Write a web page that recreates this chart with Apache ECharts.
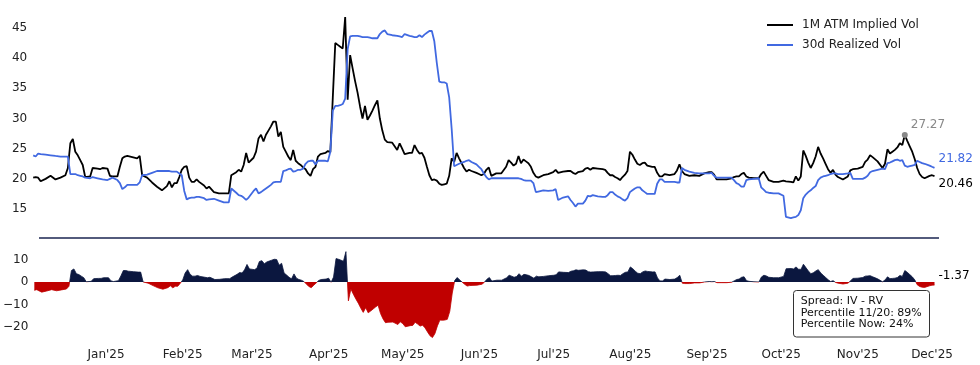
<!DOCTYPE html>
<html><head><meta charset="utf-8">
<script src="https://cdn.jsdelivr.net/npm/echarts@6/dist/echarts.min.js"></script>
<style>html,body{margin:0;padding:0;background:#fff}#c{width:980px;height:365px}</style>
</head><body><div id="c"></div>
<script>
const dates = ['2024-12-03','2024-12-04','2024-12-05','2024-12-06','2024-12-08','2024-12-10','2024-12-12','2024-12-14','2024-12-16','2024-12-17','2024-12-18','2024-12-19','2024-12-20','2024-12-21','2024-12-22','2024-12-23','2024-12-24','2024-12-26','2024-12-27','2024-12-29','2024-12-30','2024-12-31',
'2025-01-02','2025-01-03','2025-01-04','2025-01-06','2025-01-07','2025-01-08','2025-01-09','2025-01-10','2025-01-12','2025-01-14','2025-01-15','2025-01-16','2025-01-18','2025-01-20','2025-01-22','2025-01-24','2025-01-26','2025-01-27','2025-01-28','2025-01-29','2025-01-30','2025-01-31',
'2025-02-01','2025-02-02','2025-02-03','2025-02-04','2025-02-05','2025-02-06','2025-02-07','2025-02-08','2025-02-10','2025-02-11','2025-02-12','2025-02-14','2025-02-16','2025-02-18','2025-02-20','2025-02-21','2025-02-23','2025-02-24','2025-02-25','2025-02-26','2025-02-27','2025-02-28',
'2025-03-02','2025-03-03','2025-03-04','2025-03-05','2025-03-06','2025-03-07','2025-03-08','2025-03-09','2025-03-10','2025-03-11','2025-03-12','2025-03-13','2025-03-14','2025-03-15','2025-03-16','2025-03-17','2025-03-18','2025-03-19','2025-03-20','2025-03-21','2025-03-22','2025-03-23','2025-03-24','2025-03-25','2025-03-26','2025-03-27','2025-03-28','2025-03-29','2025-03-31',
'2025-04-01','2025-04-02','2025-04-03','2025-04-04','2025-04-05','2025-04-06','2025-04-07','2025-04-08','2025-04-09','2025-04-10','2025-04-11','2025-04-12','2025-04-13','2025-04-14','2025-04-15','2025-04-16','2025-04-17','2025-04-18','2025-04-19','2025-04-20','2025-04-21','2025-04-22','2025-04-23','2025-04-24','2025-04-25','2025-04-27','2025-04-29','2025-04-30',
'2025-05-01','2025-05-02','2025-05-04','2025-05-05','2025-05-06','2025-05-07','2025-05-08','2025-05-09','2025-05-10','2025-05-11','2025-05-12','2025-05-13','2025-05-14','2025-05-15','2025-05-16','2025-05-17','2025-05-18','2025-05-19','2025-05-20','2025-05-21','2025-05-22','2025-05-23','2025-05-24','2025-05-26','2025-05-27','2025-05-28','2025-05-29','2025-05-31',
'2025-06-01','2025-06-02','2025-06-03','2025-06-04','2025-06-05','2025-06-06','2025-06-08','2025-06-10','2025-06-12','2025-06-13','2025-06-14','2025-06-15','2025-06-16','2025-06-17','2025-06-18','2025-06-19','2025-06-20','2025-06-21','2025-06-22','2025-06-23','2025-06-24','2025-06-25','2025-06-27','2025-06-29',
'2025-07-01','2025-07-02','2025-07-03','2025-07-05','2025-07-07','2025-07-08','2025-07-09','2025-07-10','2025-07-11','2025-07-13','2025-07-14','2025-07-15','2025-07-16','2025-07-17','2025-07-19','2025-07-21','2025-07-22','2025-07-23','2025-07-24','2025-07-25','2025-07-26','2025-07-27','2025-07-28','2025-07-29','2025-07-30','2025-07-31',
'2025-08-01','2025-08-02','2025-08-03','2025-08-04','2025-08-05','2025-08-06','2025-08-07','2025-08-08','2025-08-10','2025-08-11','2025-08-12','2025-08-13','2025-08-14','2025-08-15','2025-08-17','2025-08-19','2025-08-20','2025-08-21','2025-08-22','2025-08-23','2025-08-25','2025-08-27','2025-08-29','2025-08-31',
'2025-09-02','2025-09-03','2025-09-04','2025-09-05','2025-09-07','2025-09-09','2025-09-11','2025-09-12','2025-09-13','2025-09-14','2025-09-15','2025-09-16','2025-09-17','2025-09-18','2025-09-20','2025-09-22','2025-09-23','2025-09-24','2025-09-25','2025-09-26','2025-09-28','2025-09-30',
'2025-10-02','2025-10-03','2025-10-05','2025-10-06','2025-10-07','2025-10-08','2025-10-09','2025-10-10','2025-10-11','2025-10-12','2025-10-13','2025-10-14','2025-10-15','2025-10-16','2025-10-17','2025-10-18','2025-10-19','2025-10-20','2025-10-21','2025-10-22','2025-10-23','2025-10-24','2025-10-26','2025-10-28','2025-10-29','2025-10-30',
'2025-11-01','2025-11-03','2025-11-04','2025-11-05','2025-11-06','2025-11-07','2025-11-09','2025-11-11','2025-11-12','2025-11-13','2025-11-14','2025-11-15','2025-11-16','2025-11-17','2025-11-18','2025-11-19','2025-11-20','2025-11-21','2025-11-22','2025-11-23','2025-11-24','2025-11-25','2025-11-26','2025-11-27','2025-11-28','2025-11-30',
'2025-12-01','2025-12-02'];

const impliedVol = [20.2,20.3,20.2,19.6,20.0,20.5,19.9,20.2,20.6,21.8,25.9,26.6,24.5,23.9,23.1,22.3,20.3,20.4,21.8,21.7,21.6,21.8,
21.7,20.5,20.4,20.4,22.0,23.4,23.7,23.8,23.6,23.4,23.8,20.6,20.2,19.4,18.7,18.1,18.8,19.6,18.6,19.3,19.3,20.3,
21.5,22.0,22.1,20.2,19.5,19.5,19.9,19.5,18.9,18.4,18.7,17.8,17.6,17.6,17.6,20.6,21.1,21.5,21.2,22.3,24.3,22.7,
23.5,24.5,26.7,27.3,26.2,27.3,28.0,28.7,29.5,29.5,27.0,27.8,25.3,24.5,23.7,23.1,24.8,23.0,22.6,22.3,21.9,21.6,20.9,20.5,21.6,22.0,23.7,24.1,24.3,
24.6,24.4,33.5,42.5,42.2,41.9,41.6,46.8,33.1,40.5,38.3,36.2,34.3,32.0,30.0,32.1,29.8,30.5,31.3,32.2,33.0,30.0,28.0,26.5,26.1,26.0,24.8,25.9,
25.0,24.1,24.3,24.3,25.6,24.8,24.2,24.3,23.5,22.0,20.6,19.8,19.9,19.7,19.2,19.0,19.1,19.2,20.5,23.4,22.8,24.3,23.4,21.8,21.2,21.5,21.3,21.0,
20.8,20.6,20.8,21.5,21.9,20.5,20.9,20.9,22.0,23.1,22.7,22.2,22.5,23.8,22.6,23.2,22.9,22.6,22.0,21.0,20.4,20.2,20.6,20.8,
21.1,21.5,21.0,21.2,21.3,21.3,21.0,20.8,21.1,21.3,21.7,21.8,21.5,21.8,21.7,21.6,21.5,21.0,20.6,20.6,20.3,20.1,19.8,20.3,20.7,21.3,
24.5,24.0,23.2,22.5,22.3,22.6,22.7,22.2,22.0,22.0,21.0,20.4,20.4,20.8,20.6,20.8,21.4,22.4,21.3,20.8,20.5,20.6,20.5,20.9,
21.1,21.1,20.7,19.9,19.9,19.9,20.1,20.3,20.4,20.4,20.8,21.0,20.4,20.2,20.1,20.1,20.8,21.2,20.5,19.8,19.5,19.5,
19.7,19.6,19.5,19.4,20.4,19.7,20.4,24.7,23.8,22.7,21.8,22.6,23.7,25.3,24.2,23.4,22.5,21.6,21.0,21.5,20.7,20.3,19.9,20.4,21.4,21.6,
21.7,22.0,22.8,23.2,23.9,23.6,22.9,21.8,22.5,24.9,24.2,24.5,24.8,25.2,25.9,25.6,27.27,26.3,25.4,24.5,23.3,21.8,20.8,20.3,20.1,20.5,
20.6,20.4551];

const realizedVol = [23.9,23.7,24.2,24.1,24.0,23.9,23.8,23.7,23.7,23.7,20.8,20.8,20.8,20.6,20.5,20.4,20.2,20.1,20.3,20.1,20.0,19.9,
19.8,20.0,20.2,19.8,19.3,18.3,18.6,19.0,19.0,19.0,19.4,20.6,20.7,21.0,21.3,21.3,21.3,21.3,21.2,21.2,21.2,20.9,
20.6,18.0,16.6,16.8,16.9,16.9,17.0,17.0,16.8,16.5,16.6,16.7,16.4,16.1,16.1,18.4,17.7,17.3,17.2,16.9,16.5,16.9,
18.0,18.4,17.6,17.8,18.1,18.4,18.7,19.0,19.4,19.5,19.5,19.5,21.3,21.4,21.6,21.7,21.2,21.3,21.5,21.5,21.7,22.5,22.9,23.0,23.0,22.4,23.0,23.0,23.0,
22.9,24.5,31.3,32.1,32.1,32.2,32.4,33.3,41.5,43.6,43.7,43.7,43.7,43.6,43.5,43.5,43.5,43.4,43.3,43.3,43.3,44.0,44.4,44.6,44.0,43.8,43.7,43.6,
43.5,44.0,43.7,43.6,43.5,43.5,43.8,43.5,43.9,44.2,44.5,44.5,42.8,39.2,36.1,36.0,36.0,35.8,33.5,28.3,22.1,22.3,22.5,22.8,23.0,23.1,22.8,22.4,
22.0,21.6,20.9,20.3,19.9,20.1,20.1,20.1,20.1,20.1,20.1,20.1,20.1,20.1,20.0,19.8,19.7,19.7,19.7,19.3,17.8,17.9,18.1,18.0,
18.1,18.3,16.5,16.9,17.1,16.5,16.0,15.4,15.9,15.9,16.4,17.2,17.1,17.3,17.1,17.0,17.0,17.3,17.8,17.8,17.4,17.1,16.9,16.6,16.4,16.8,
17.8,18.1,18.4,18.6,18.6,18.1,17.8,17.5,17.5,17.5,19.2,19.9,19.9,19.5,19.5,19.5,19.4,19.4,21.8,21.5,21.2,21.0,20.9,20.9,
20.9,21.0,20.5,20.2,20.2,20.2,20.2,19.8,19.3,19.1,18.7,18.7,19.8,19.9,20.0,20.1,18.6,18.2,17.8,17.7,17.6,17.6,
17.2,13.7,13.5,13.6,13.7,14.0,14.8,16.8,17.4,17.8,18.1,18.5,18.8,19.8,20.2,20.4,20.5,20.6,20.8,20.9,20.9,20.8,20.8,20.9,21.0,20.0,
20.0,20.0,20.2,20.5,21.1,21.3,21.5,21.7,21.6,22.6,22.7,22.9,23.1,23.2,23.0,23.1,22.2,22.0,22.1,22.2,22.3,23.0,22.8,22.6,22.5,22.2,
22.0,21.8249];

const monthTicks = ['2025-01-01','2025-02-01','2025-03-01','2025-04-01','2025-05-01','2025-06-01','2025-07-01','2025-08-01','2025-09-01','2025-10-01','2025-11-01','2025-12-01'];
const monthLabels = ["Jan'25","Feb'25","Mar'25","Apr'25","May'25","Jun'25","Jul'25","Aug'25","Sep'25","Oct'25","Nov'25","Dec'25"];
const topTicks = [15,20,25,30,35,40,45];
const bottomTicks = [-20,-10,0,10];
const markDate = '2025-11-20';
const seriesNames = ['1M ATM Implied Vol','30d Realized Vol'];
const annotationLines = ['Spread: IV - RV','Percentile 11/20: 89%','Percentile Now: 24%'];

const toTs = s => new Date(s + 'T00:00:00').getTime();
const ts = dates.map(toTs);
const spread = impliedVol.map((v, i) => v - realizedVol[i]);
const tickTs = monthTicks.map(toTs);
const markIdx = dates.indexOf(markDate);

const FONT = 'DejaVu Sans';
const BLUE = '#4169e1';
const NAVY = '#0b173f';
const RED = '#c00000';
const gridL = 33.2, gridR = 45.5;
const bTop = 248.25, bH = 90, bMin = -25, bMax = 15;
const zeroOff = bMax / (bMax - bMin);
const spreadFill = new echarts.graphic.LinearGradient(0, bTop, 0, bTop + bH, [
  {offset: 0, color: NAVY}, {offset: zeroOff, color: NAVY},
  {offset: zeroOff, color: RED}, {offset: 1, color: RED}], true);

const chart = echarts.init(document.getElementById('c'), null, {renderer: 'canvas'});
chart.setOption({
  animation: false,
  textStyle: {fontFamily: FONT},
  grid: [
    {left: gridL, right: gridR, top: 9.9, height: 229.3},
    {left: gridL, right: gridR, top: bTop, height: bH}
  ],
  xAxis: [
    {type: 'value', gridIndex: 0, min: ts[0], max: ts[ts.length - 1], show: false, scale: true},
    {type: 'value', gridIndex: 1, min: ts[0], max: ts[ts.length - 1], scale: true,
     axisLine: {show: false}, axisTick: {show: false}, splitLine: {show: false},
     axisLabel: {customValues: tickTs, hideOverlap: false, showMinLabel: true, showMaxLabel: true, margin: 11, fontSize: 12, color: '#222', fontFamily: FONT,
       formatter: v => { const i = tickTs.indexOf(v); return i >= 0 ? monthLabels[i] : ''; }}}
  ],
  yAxis: [
    {type: 'value', gridIndex: 0, min: 10, max: 48, interval: 5,
     axisLine: {show: false}, axisTick: {show: false}, splitLine: {show: false},
     axisLabel: {margin: 6, fontSize: 12, color: '#222', fontFamily: FONT,
       formatter: v => topTicks.includes(v) ? String(v) : ''}},
    {type: 'value', gridIndex: 1, min: bMin, max: bMax, interval: 5,
     axisLine: {show: false}, axisTick: {show: false}, splitLine: {show: false},
     axisLabel: {margin: 6, fontSize: 12, color: '#222', fontFamily: FONT,
       formatter: v => bottomTicks.includes(v) ? (v < 0 ? '\u2212' + Math.abs(v) : String(v)) : ''}}
  ],
  legend: {
    orient: 'vertical', left: 762, top: 14, itemWidth: 26, itemHeight: 2, itemGap: 8, icon: 'rect',
    data: seriesNames,
    textStyle: {fontSize: 12, color: '#222', fontFamily: FONT, padding: [0, 0, 0, 4]}
  },
  series: [
    {name: seriesNames[0], type: 'line', xAxisIndex: 0, yAxisIndex: 0, symbol: 'none',
     data: ts.map((t, i) => [t, impliedVol[i]]),
     lineStyle: {color: '#000', width: 1.8}, itemStyle: {color: '#000'},
     endLabel: {show: true, formatter: p => p.value[1].toFixed(2), color: '#000', fontSize: 12, fontFamily: FONT, distance: 4, offset: [0, 8]},
     markPoint: {symbol: 'circle', symbolSize: 6, itemStyle: {color: '#888'},
       label: {show: true, position: 'right', distance: 3, offset: [0, -10], color: '#888', fontSize: 12, fontFamily: FONT,
         formatter: p => p.value.toFixed(2)},
       data: [{coord: [ts[markIdx], impliedVol[markIdx]], value: impliedVol[markIdx]}]}
    },
    {name: seriesNames[1], type: 'line', xAxisIndex: 0, yAxisIndex: 0, symbol: 'none',
     data: ts.map((t, i) => [t, realizedVol[i]]),
     lineStyle: {color: BLUE, width: 1.8}, itemStyle: {color: BLUE},
     endLabel: {show: true, formatter: p => p.value[1].toFixed(2), color: BLUE, fontSize: 12, fontFamily: FONT, distance: 4, offset: [0, -9]}
    },
    {name: 'Spread', type: 'line', xAxisIndex: 1, yAxisIndex: 1, symbol: 'none',
     data: ts.map((t, i) => [t, spread[i]]),
     lineStyle: {width: 0.8, color: spreadFill}, itemStyle: {color: NAVY},
     areaStyle: {opacity: 1, color: spreadFill, origin: 0},
     endLabel: {show: true, formatter: p => p.value[1].toFixed(2), color: '#000', fontSize: 12, fontFamily: FONT, distance: 4, offset: [0, -9]}
    }
  ],
  graphic: [
    {type: 'line', shape: {x1: 39, y1: 238, x2: 939, y2: 238}, style: {stroke: '#1a2550', lineWidth: 1.5}, z: 10},
    {type: 'rect', shape: {x: 793.5, y: 290.5, width: 136, height: 46.5, r: 3}, style: {fill: '#fff', stroke: '#333', lineWidth: 1}, z: 20},
    {type: 'text', x: 800.7, y: 295.2, z: 21,
     style: {text: annotationLines.join('\n'), font: '11px "DejaVu Sans"', fill: '#111', lineHeight: 11.7, textVerticalAlign: 'top'}}
  ]
});
</script></body></html>
